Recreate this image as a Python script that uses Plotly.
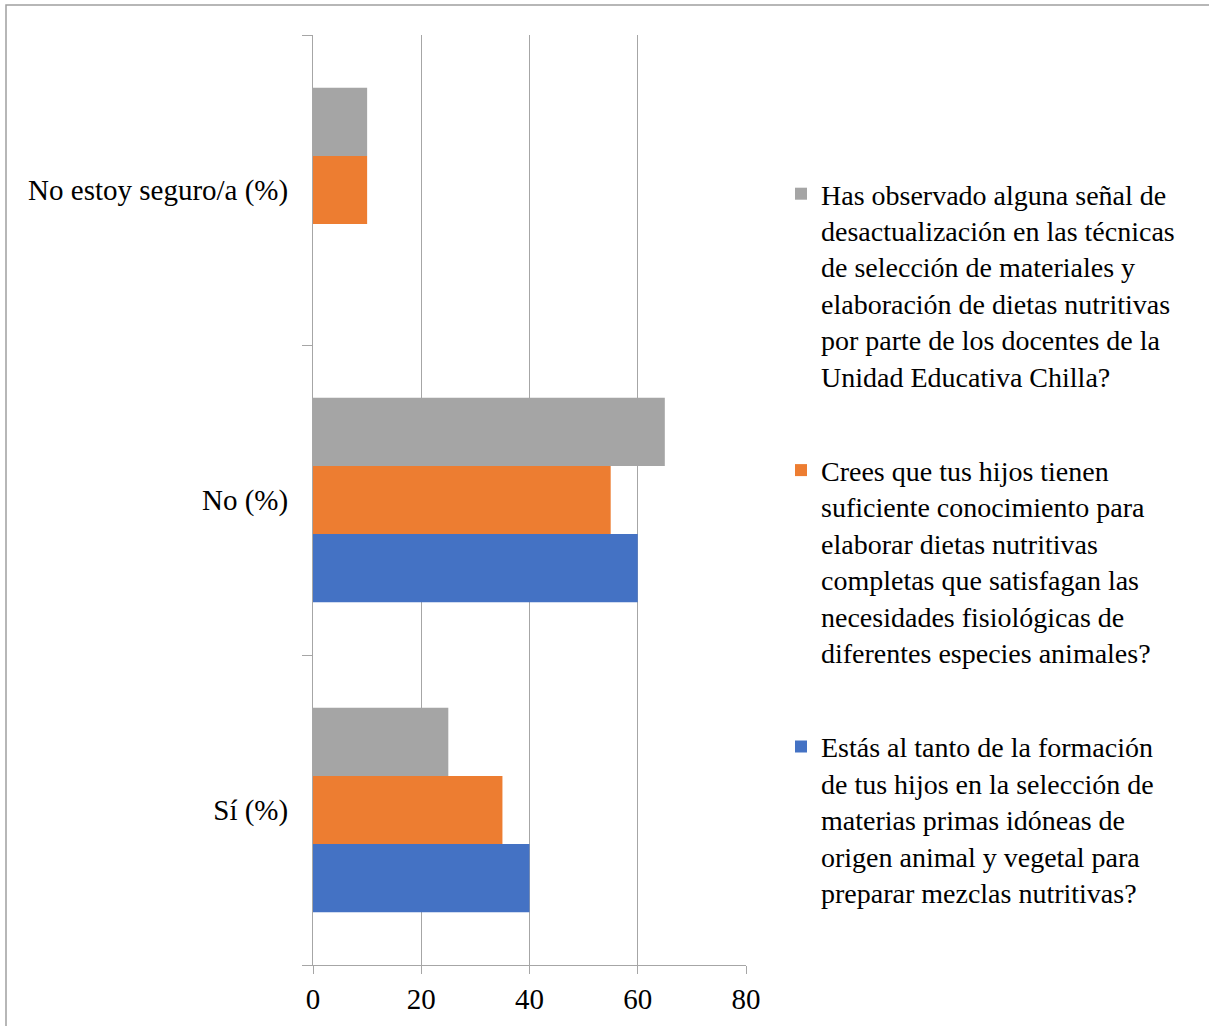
import plotly.graph_objects as go

categories = ["Sí (%)", "No (%)", "No estoy seguro/a (%)"]

series_names = [
    "Estás al tanto de la formación<br>de tus hijos en la selección de<br>materias primas idóneas de<br>origen animal y vegetal para<br>preparar mezclas nutritivas?",
    "Crees que tus hijos tienen<br>suficiente conocimiento para<br>elaborar dietas nutritivas<br>completas que satisfagan las<br>necesidades fisiológicas de<br>diferentes especies animales?",
    "Has observado alguna señal de<br>desactualización en las técnicas<br>de selección de materiales y<br>elaboración de dietas nutritivas<br>por parte de los docentes de la<br>Unidad Educativa Chilla?",
]
blue_values = [40, 60, 0]
orange_values = [35, 55, 10]
gray_values = [25, 65, 10]

x_ticks = [0, 20, 40, 60, 80]

colors = ["#4472C4", "#ED7D31", "#A5A5A5"]
FONT = "Liberation Serif, Times New Roman, serif"

W, H = 1209, 1026
L, R, T, B = 313, 746, 35, 965

fig = go.Figure()
for i, (name, vals) in enumerate(zip(series_names, [blue_values, orange_values, gray_values])):
    fig.add_trace(go.Bar(
        y=categories, x=vals, name=name, orientation="h",
        marker=dict(color=colors[i], line=dict(width=0)),
        legendgroup=f"g{i}",
        legendrank=3 - i,
    ))

pw = R - L
ph = B - T

def px_x(p):
    return (p - L) / pw

def px_y(p):
    return (B - p) / ph

fig.update_layout(
    width=W, height=H,
    margin=dict(l=L, r=W - R, t=T, b=H - B),
    paper_bgcolor="white", plot_bgcolor="white",
    barmode="group", bargap=0.34, bargroupgap=0,
    font=dict(family=FONT, size=28, color="black"),
    legend=dict(
        x=px_x(781), xanchor="left",
        y=px_y(169), yanchor="top",
        traceorder="grouped",
        tracegroupgap=55,
        valign="top",
        font=dict(family=FONT, size=28, color="black"),
        bgcolor="rgba(0,0,0,0)",
    ),
    xaxis=dict(
        range=[0, 80], tickvals=x_ticks,
        showgrid=True, gridcolor="#A6A6A6", gridwidth=1,
        showline=True, linecolor="#A6A6A6", linewidth=1,
        ticks="outside", ticklen=8, tickcolor="#A6A6A6",
        tickfont=dict(family=FONT, size=29, color="black"),
        zeroline=False, fixedrange=True,
    ),
    yaxis=dict(
        type="category", categoryorder="array", categoryarray=categories,
        showgrid=False,
        showline=True, linecolor="#A6A6A6", linewidth=1,
        ticks="outside", ticklen=10, tickcolor="#A6A6A6",
        tickson="boundaries",
        ticklabelstandoff=18,
        tickfont=dict(family=FONT, size=29, color="black"),
        zeroline=False, fixedrange=True,
    ),
    shapes=[dict(
        type="rect", xref="paper", yref="paper",
        x0=px_x(6), x1=px_x(1300), y0=px_y(1100), y1=px_y(5),
        line=dict(color="#A0A0A0", width=1.5), fillcolor="rgba(0,0,0,0)",
        layer="below",
    )],
)

fig.write_html("out.html")
